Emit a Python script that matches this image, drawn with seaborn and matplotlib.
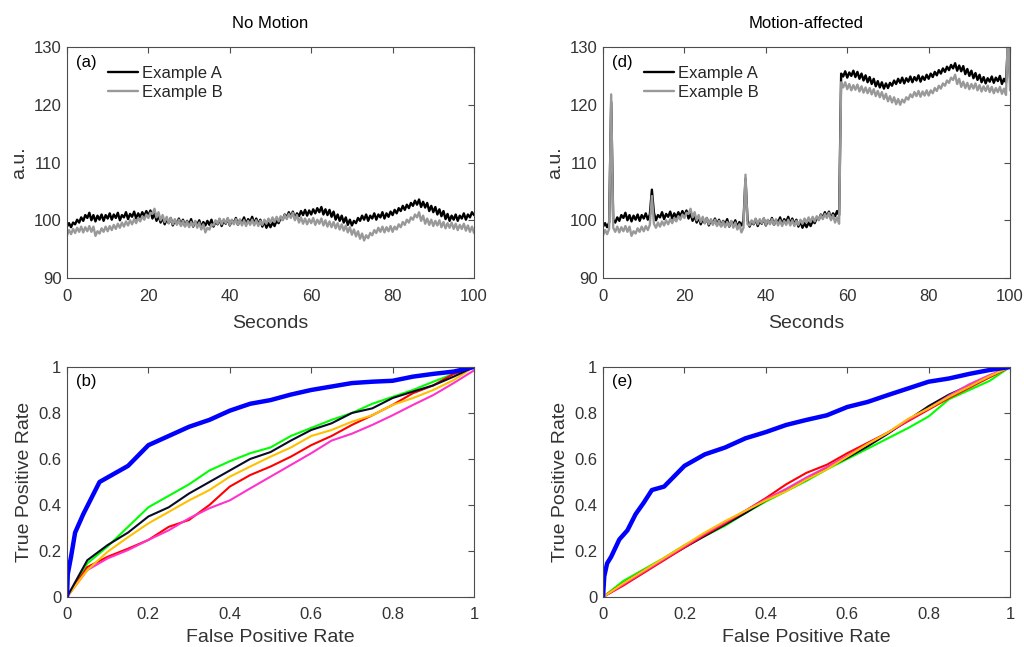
import numpy as np
import pandas as pd
import matplotlib
matplotlib.use("Agg")
import matplotlib.pyplot as plt
import seaborn as sns

seconds = np.linspace(0, 100, 201)

a_nomotion = [
    98.9, 99.5, 98.8, 99.6, 99.3, 100.1, 99.6, 100.5, 99.9, 100.9,
    100.4, 101.3, 100.0, 100.9, 99.8, 100.8, 100.1, 101.0, 99.9, 100.9,
    100.3, 101.2, 100.1, 101.0, 100.4, 101.3, 100.0, 100.9, 100.5, 101.4,
    100.2, 101.1, 100.6, 101.5, 100.3, 101.2, 100.5, 101.4, 100.7, 101.6,
    100.8, 101.7, 100.3, 101.2, 99.9, 100.8, 99.6, 100.5, 99.3, 100.2,
    99.5, 100.4, 99.1, 100.0, 99.4, 100.3, 99.2, 100.1, 99.0, 99.9,
    99.3, 100.2, 98.9, 99.8, 99.2, 100.0, 98.8, 99.7, 99.1, 99.9,
    99.2, 100.1, 98.9, 99.8, 99.3, 100.2, 99.0, 99.9, 99.4, 100.3,
    99.1, 100.0, 99.5, 100.4, 99.2, 100.1, 99.6, 100.5, 99.3, 100.2,
    99.7, 100.6, 99.4, 100.3, 99.3, 100.1, 98.9, 99.8, 98.7, 99.5,
    98.8, 99.6, 99.0, 99.9, 99.5, 100.4, 100.1, 101.0, 100.5, 101.4,
    100.6, 101.5, 100.3, 101.2, 100.7, 101.6, 100.9, 101.8, 100.8, 101.7,
    101.0, 101.9, 101.2, 102.1, 101.4, 102.3, 101.0, 101.9, 100.9, 101.8,
    100.6, 101.5, 100.1, 101.0, 99.9, 100.8, 99.6, 100.5, 99.2, 100.1,
    99.1, 99.9, 99.5, 100.4, 99.9, 100.8, 100.1, 101.0, 99.9, 100.8,
    100.3, 101.2, 100.1, 101.0, 100.5, 101.4, 100.3, 101.2, 100.6, 101.5,
    100.9, 101.8, 101.2, 102.1, 101.6, 102.5, 101.8, 102.7, 102.1, 103.0,
    102.5, 103.4, 102.7, 103.6, 102.3, 103.2, 102.2, 103.0, 101.6, 102.5,
    101.4, 102.3, 101.0, 101.9, 100.7, 101.6, 100.2, 101.1, 99.9, 100.8,
    100.1, 101.0, 99.9, 100.8, 100.3, 101.2, 100.1, 101.0, 100.5, 101.4,
    100.9,
]

b_nomotion = [
    97.4, 98.3, 97.6, 98.5, 97.8, 98.7, 98.0, 98.9, 97.9, 98.8,
    98.1, 99.0, 98.0, 98.9, 97.3, 98.1, 97.7, 98.6, 98.0, 98.9,
    98.1, 99.0, 98.3, 99.2, 98.5, 99.4, 98.7, 99.6, 98.9, 99.8,
    99.1, 100.0, 99.3, 100.2, 99.5, 100.4, 99.8, 100.7, 100.1, 101.0,
    100.4, 101.3, 101.1, 102.0, 100.5, 101.4, 100.0, 100.9, 99.7, 100.6,
    99.5, 100.4, 99.3, 100.2, 99.2, 100.1, 99.0, 99.9, 98.9, 99.8,
    98.8, 99.7, 99.0, 99.9, 98.7, 99.6, 98.4, 99.3, 97.9, 98.7,
    98.4, 99.3, 99.1, 100.0, 99.4, 100.3, 99.3, 100.2, 99.5, 100.4,
    99.2, 100.1, 99.3, 100.2, 99.2, 100.1, 99.1, 100.0, 99.0, 99.9,
    99.2, 100.1, 99.1, 100.0, 99.0, 99.9, 99.2, 100.1, 99.4, 100.3,
    99.6, 100.5, 99.7, 100.6, 99.8, 100.7, 100.0, 100.9, 100.2, 101.1,
    100.4, 101.3, 100.0, 100.9, 99.6, 100.5, 99.4, 100.3, 99.3, 100.2,
    99.5, 100.4, 99.2, 100.1, 99.4, 100.3, 99.1, 100.0, 98.9, 99.8,
    98.8, 99.7, 98.6, 99.5, 98.4, 99.3, 98.2, 99.1, 97.9, 98.8,
    97.5, 98.4, 97.2, 98.1, 96.8, 97.7, 96.5, 97.4, 96.9, 97.8,
    97.4, 98.3, 97.8, 98.7, 98.0, 98.9, 97.9, 98.8, 98.1, 99.0,
    98.0, 98.9, 98.4, 99.3, 98.8, 99.7, 99.2, 100.1, 99.6, 100.5,
    100.1, 101.0, 100.5, 101.4, 99.9, 100.8, 99.4, 100.3, 99.2, 100.1,
    99.0, 99.9, 99.1, 100.0, 98.8, 99.7, 98.6, 99.5, 98.7, 99.6,
    98.5, 99.4, 98.3, 99.2, 98.5, 99.4, 98.2, 99.1, 98.0, 98.9,
    97.8,
]

a_motion = [
    98.9, 99.5, 98.8, 99.6, 120.5, 100.1, 99.6, 100.5, 99.9, 100.9,
    100.4, 101.3, 100.0, 100.9, 99.8, 100.8, 100.1, 101.0, 99.9, 100.9,
    100.3, 101.2, 100.1, 101.0, 105.3, 101.3, 100.0, 100.9, 100.5, 101.4,
    100.2, 101.1, 100.6, 101.5, 100.3, 101.2, 100.5, 101.4, 100.7, 101.6,
    100.8, 101.7, 100.3, 101.2, 99.9, 100.8, 99.6, 100.5, 99.3, 100.2,
    99.5, 100.4, 99.1, 100.0, 99.4, 100.3, 99.2, 100.1, 99.0, 99.9,
    99.3, 100.2, 98.9, 99.8, 99.2, 100.0, 98.8, 99.7, 99.1, 99.9,
    107.2, 100.1, 98.9, 99.8, 99.3, 100.2, 99.0, 99.9, 99.4, 100.3,
    99.1, 100.0, 99.5, 100.4, 99.2, 100.1, 99.6, 100.5, 99.3, 100.2,
    99.7, 100.6, 99.4, 100.3, 99.3, 100.1, 98.9, 99.8, 98.7, 99.5,
    98.8, 99.6, 99.0, 99.9, 99.5, 100.4, 100.1, 101.0, 100.5, 101.4,
    100.6, 101.5, 100.3, 101.2, 100.7, 101.6, 100.9, 125.4,
    124.9, 125.8, 124.7, 125.6, 125.0, 125.9, 124.8, 125.7, 124.5, 125.4,
    124.2, 125.1, 123.9, 124.8, 123.6, 124.5, 123.2, 124.1, 123.0, 123.9,
    122.8, 123.7, 122.9, 123.8, 123.3, 124.2, 123.6, 124.5, 123.8, 124.7,
    123.7, 124.6, 124.0, 124.9, 123.9, 124.8, 124.2, 125.1, 124.0, 124.9,
    124.3, 125.2, 124.5, 125.4, 124.8, 125.7, 125.1, 126.0, 125.4, 126.3,
    125.7, 126.6, 126.0, 126.9, 126.3, 127.2, 125.9, 126.8, 125.8, 126.7,
    125.3, 126.2, 125.0, 125.9, 124.6, 125.5, 124.3, 125.2, 123.9, 124.8,
    123.7, 124.6, 124.0, 124.9, 123.8, 124.7, 124.1, 125.0, 123.6, 124.5,
    123.9, 131.0, 124.5,
]

b_motion = [
    97.4, 98.3, 97.6, 98.5, 121.8, 98.7, 98.0, 98.9, 97.9, 98.8,
    98.1, 99.0, 98.0, 98.9, 97.3, 98.1, 97.7, 98.6, 98.0, 98.9,
    98.1, 99.0, 98.3, 99.2, 104.2, 99.4, 98.7, 99.6, 98.9, 99.8,
    99.1, 100.0, 99.3, 100.2, 99.5, 100.4, 99.8, 100.7, 100.1, 101.0,
    100.4, 101.3, 101.1, 102.0, 100.5, 101.4, 100.0, 100.9, 99.7, 100.6,
    99.5, 100.4, 99.3, 100.2, 99.2, 100.1, 99.0, 99.9, 98.9, 99.8,
    98.8, 99.7, 99.0, 99.9, 98.7, 99.6, 98.4, 99.3, 97.9, 98.7,
    107.9, 99.3, 99.1, 100.0, 99.4, 100.3, 99.3, 100.2, 99.5, 100.4,
    99.2, 100.1, 99.3, 100.2, 99.2, 100.1, 99.1, 100.0, 99.0, 99.9,
    99.2, 100.1, 99.1, 100.0, 99.0, 99.9, 99.2, 100.1, 99.4, 100.3,
    99.6, 100.5, 99.7, 100.6, 99.8, 100.7, 100.0, 100.9, 100.2, 101.1,
    100.4, 101.3, 100.0, 100.9, 99.6, 100.5, 99.4, 123.9,
    123.0, 123.9, 122.7, 123.6, 122.5, 123.4, 122.6, 123.5, 122.3, 123.2,
    122.1, 123.0, 122.0, 122.9, 121.8, 122.7, 121.5, 122.4, 121.3, 122.2,
    121.0, 121.9, 120.6, 121.5, 120.4, 121.3, 120.1, 121.0, 120.0, 120.9,
    120.4, 121.3, 120.9, 121.8, 121.3, 122.2, 121.5, 122.4, 121.4, 122.3,
    121.6, 122.5, 121.6, 122.5, 122.0, 122.9, 122.4, 123.3, 122.8, 123.7,
    123.3, 124.2, 123.8, 124.7, 124.3, 125.2, 123.6, 124.5, 123.1, 124.0,
    122.9, 123.8, 122.7, 123.6, 122.8, 123.7, 122.5, 123.4, 122.3, 123.2,
    122.4, 123.3, 122.2, 123.1, 122.0, 122.9, 122.2, 123.1, 121.9, 122.8,
    121.7, 133.0, 122.5,
]

# ---- ROC curves ----
fpr = [0, 0.05, 0.1, 0.15, 0.2, 0.25, 0.3, 0.35, 0.4, 0.45, 0.5,
       0.55, 0.6, 0.65, 0.7, 0.75, 0.8, 0.85, 0.9, 0.95, 1.0]

green_b = [0, 0.146, 0.22, 0.305, 0.39, 0.44, 0.49, 0.55, 0.59, 0.625, 0.65,
           0.70, 0.735, 0.77, 0.80, 0.84, 0.87, 0.90, 0.936, 0.97, 1.0]
black_b = [0, 0.16, 0.226, 0.28, 0.35, 0.39, 0.45, 0.50, 0.55, 0.60, 0.63,
           0.68, 0.726, 0.755, 0.80, 0.82, 0.865, 0.893, 0.92, 0.958, 1.0]
yellow_b = [0, 0.117, 0.197, 0.26, 0.32, 0.37, 0.42, 0.465, 0.523, 0.567, 0.61,
            0.65, 0.70, 0.726, 0.762, 0.79, 0.835, 0.865, 0.90, 0.943, 1.0]
red_b = [0, 0.13, 0.175, 0.21, 0.248, 0.305, 0.335, 0.40, 0.48, 0.53, 0.567,
         0.61, 0.66, 0.70, 0.748, 0.79, 0.835, 0.886, 0.92, 0.97, 1.0]
magenta_b = [0, 0.117, 0.168, 0.204, 0.248, 0.29, 0.342, 0.386, 0.42, 0.472, 0.523,
             0.574, 0.625, 0.68, 0.71, 0.748, 0.79, 0.835, 0.878, 0.93, 0.985]

blue_b_fpr = [0, 0.002, 0.01, 0.02, 0.04, 0.06, 0.08, 0.1, 0.15, 0.2, 0.25, 0.3, 0.35,
              0.4, 0.45, 0.5, 0.55, 0.6, 0.65, 0.7, 0.75, 0.8, 0.85, 0.9, 0.95, 1.0]
blue_b = [0, 0.10, 0.175, 0.28, 0.36, 0.43, 0.50, 0.52, 0.57, 0.66, 0.70, 0.74, 0.77,
          0.81, 0.84, 0.856, 0.88, 0.90, 0.915, 0.93, 0.936, 0.94, 0.958, 0.97, 0.98, 1.0]

black_e = [0, 0.06, 0.115, 0.165, 0.215, 0.265, 0.315, 0.365, 0.42, 0.465, 0.51,
           0.56, 0.605, 0.655, 0.71, 0.77, 0.83, 0.88, 0.92, 0.96, 1.0]
green_e = [0, 0.07, 0.12, 0.17, 0.225, 0.265, 0.31, 0.365, 0.415, 0.46, 0.505,
           0.555, 0.60, 0.645, 0.69, 0.735, 0.785, 0.86, 0.90, 0.94, 1.0]
red_e = [0, 0.05, 0.105, 0.16, 0.215, 0.27, 0.32, 0.375, 0.43, 0.49, 0.54,
         0.575, 0.625, 0.67, 0.715, 0.765, 0.815, 0.865, 0.91, 0.955, 1.0]
magenta_e = [0, 0.055, 0.11, 0.165, 0.22, 0.275, 0.325, 0.375, 0.425, 0.47, 0.52,
             0.565, 0.615, 0.665, 0.715, 0.77, 0.82, 0.875, 0.925, 0.965, 1.0]
yellow_e = [0, 0.06, 0.115, 0.17, 0.225, 0.28, 0.33, 0.375, 0.42, 0.46, 0.51,
            0.555, 0.61, 0.665, 0.715, 0.775, 0.82, 0.87, 0.915, 0.96, 1.0]

blue_e_fpr = [0, 0.003, 0.01, 0.02, 0.04, 0.06, 0.08, 0.1, 0.12, 0.15, 0.2, 0.25, 0.3,
              0.35, 0.4, 0.45, 0.5, 0.55, 0.6, 0.65, 0.7, 0.75, 0.8, 0.85, 0.9, 0.95, 1.0]
blue_e = [0, 0.09, 0.146, 0.175, 0.25, 0.29, 0.36, 0.41, 0.465, 0.48, 0.57, 0.62, 0.65,
          0.69, 0.717, 0.748, 0.77, 0.79, 0.826, 0.848, 0.878, 0.907, 0.936, 0.95, 0.97,
          0.987, 1.0]

roc_colors = {"green": "#00ff00", "red": "#ff0000", "magenta": "#ff33cc",
              "yellow": "#ffc000", "black": "#0b0b26", "blue": "#0000ff"}

sns.set_style("white")
plt.rcParams["font.family"] = ["Liberation Sans", "DejaVu Sans"]
text_color = "#333333"
spine_color = "#4d4d4d"

fig = plt.figure(figsize=(10.24, 6.47), dpi=100)
ax_a = fig.add_axes([0.0654, 0.5703, 0.3975, 0.357])
ax_d = fig.add_axes([0.5889, 0.5703, 0.3975, 0.357])
ax_b = fig.add_axes([0.0654, 0.0773, 0.3975, 0.3555])
ax_e = fig.add_axes([0.5889, 0.0773, 0.3975, 0.3555])


def style_axes(ax, xpad):
    for s in ax.spines.values():
        s.set_color(spine_color)
        s.set_linewidth(0.8)
    ax.tick_params(direction="in", top=True, right=True, length=4, width=0.8,
                   labelsize=12, colors=spine_color, labelcolor=text_color, pad=4)
    ax.tick_params(axis="x", pad=xpad)


# top row: raw signals
for ax, a_vals, b_vals, letter, title in [
    (ax_a, a_nomotion, b_nomotion, "(a)", "No Motion"),
    (ax_d, a_motion, b_motion, "(d)", "Motion-affected"),
]:
    ts = pd.DataFrame({"Seconds": seconds, "A": a_vals, "B": b_vals})
    sns.lineplot(data=ts, x="Seconds", y="A", ax=ax, color="black", linewidth=1.7,
                 estimator=None, sort=False, label="Example A")
    sns.lineplot(data=ts, x="Seconds", y="B", ax=ax, color="#999999", linewidth=1.7,
                 estimator=None, sort=False, label="Example B")
    ax.set_xlim(0, 100)
    ax.set_ylim(90, 130)
    ax.set_xticks([0, 20, 40, 60, 80, 100])
    ax.set_yticks([90, 100, 110, 120, 130])
    ax.set_xlabel("Seconds", fontsize=14, color=text_color, labelpad=8)
    ax.set_ylabel("a.u.", fontsize=14, color=text_color, labelpad=4)
    ax.set_title(title, fontsize=12, color="black", pad=14)
    ax.text(0.022, 0.935, letter, transform=ax.transAxes, fontsize=12,
            va="center", ha="left", color="black")
    ax.legend(loc="upper left", bbox_to_anchor=(0.068, 0.977), frameon=False,
              fontsize=12, handlelength=1.8, handletextpad=0.25, labelspacing=0.25,
              borderpad=0.3)
    style_axes(ax, 8)

# bottom row: ROC curves
for ax, curves, blue_fpr, blue_tpr, letter in [
    (ax_b, [("green", green_b), ("red", red_b), ("magenta", magenta_b),
            ("yellow", yellow_b), ("black", black_b)], blue_b_fpr, blue_b, "(b)"),
    (ax_e, [("green", green_e), ("black", black_e), ("red", red_e),
            ("magenta", magenta_e), ("yellow", yellow_e)], blue_e_fpr, blue_e, "(e)"),
]:
    for name, tpr in curves:
        sns.lineplot(x=fpr, y=tpr, ax=ax, color=roc_colors[name], linewidth=1.5,
                     estimator=None, sort=False, legend=False)
    sns.lineplot(x=blue_fpr, y=blue_tpr, ax=ax, color=roc_colors["blue"], linewidth=3.2,
                 estimator=None, sort=False, legend=False)
    ax.set_xlim(0, 1)
    ax.set_ylim(0, 1)
    ticks = [0, 0.2, 0.4, 0.6, 0.8, 1]
    ax.set_xticks(ticks)
    ax.set_yticks(ticks)
    ax.set_xticklabels(["0", "0.2", "0.4", "0.6", "0.8", "1"])
    ax.set_yticklabels(["0", "0.2", "0.4", "0.6", "0.8", "1"])
    ax.set_xlabel("False Positive Rate", fontsize=14, color=text_color, labelpad=5)
    ax.set_ylabel("True Positive Rate", fontsize=14, color=text_color, labelpad=4)
    ax.text(0.022, 0.935, letter, transform=ax.transAxes, fontsize=12,
            va="center", ha="left", color="black")
    style_axes(ax, 7)

fig.savefig("out.png", dpi=100)
